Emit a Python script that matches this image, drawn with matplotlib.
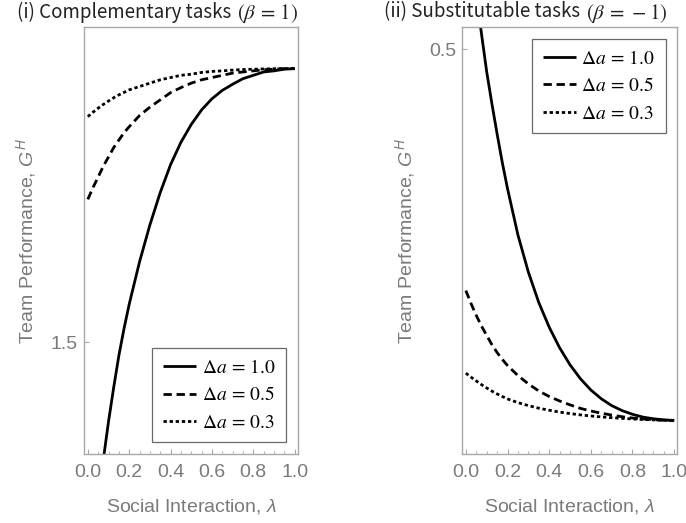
import matplotlib
matplotlib.use("Agg")
import matplotlib.pyplot as plt
from matplotlib.ticker import MultipleLocator, FixedLocator

# social interaction grid (denser near 0 where the curves bend most)
lam = [0.000, 0.025, 0.050, 0.075, 0.100, 0.125, 0.150, 0.175, 0.200, 0.25, 0.30, 0.35,
       0.40, 0.45, 0.50, 0.55, 0.60, 0.65, 0.70, 0.75, 0.80, 0.85, 0.90, 0.95, 1.00]

# (i) complementary tasks, beta = 1
comp_da10 = [1.272, 1.3153, 1.357, 1.395, 1.429, 1.4595, 1.488, 1.5122, 1.534, 1.572, 1.605, 1.634,
             1.659, 1.679, 1.695, 1.708, 1.718, 1.7255, 1.731, 1.736, 1.739, 1.742, 1.743, 1.7445, 1.745]
comp_da05 = [1.628, 1.6385, 1.648, 1.6577, 1.666, 1.6743, 1.681, 1.6877, 1.693, 1.703, 1.7105, 1.717,
             1.7235, 1.728, 1.732, 1.735, 1.737, 1.739, 1.741, 1.742, 1.743, 1.744, 1.7445, 1.745, 1.745]
comp_da03 = [1.702, 1.706, 1.7096, 1.713, 1.716, 1.7189, 1.7215, 1.7237, 1.726, 1.729, 1.732, 1.735,
             1.737, 1.739, 1.740, 1.7416, 1.7425, 1.743, 1.7437, 1.7442, 1.7445, 1.7447, 1.7449, 1.745, 1.745]

# (ii) substitutable tasks, beta = -1
subs_da10 = [0.580, 0.5543, 0.530, 0.5085, 0.488, 0.4708, 0.4545, 0.439, 0.425, 0.400, 0.380, 0.3636,
             0.3503, 0.3392, 0.330, 0.3225, 0.3164, 0.3117, 0.3080, 0.3053, 0.3033, 0.3018, 0.3009, 0.3003, 0.300]
subs_da05 = [0.370, 0.363, 0.3566, 0.3509, 0.3458, 0.3409, 0.3366, 0.3329, 0.3296, 0.3242, 0.3197, 0.3159,
             0.3129, 0.3105, 0.3084, 0.3065, 0.3051, 0.3039, 0.3029, 0.3020, 0.3013, 0.3008, 0.3004, 0.3001, 0.300]
subs_da03 = [0.3255, 0.3233, 0.3213, 0.3193, 0.3175, 0.3158, 0.3143, 0.3129, 0.3116, 0.3096, 0.3080, 0.3066,
             0.3055, 0.3045, 0.3037, 0.3030, 0.3024, 0.3019, 0.3015, 0.3011, 0.3008, 0.3005, 0.3003, 0.3001, 0.300]

labels = [r"$\Delta a\, =\, 1.0$", r"$\Delta a\, =\, 0.5$", r"$\Delta a\, =\, 0.3$"]
title_words = ["(i) Complementary tasks", "(ii) Substitutable tasks"]
title_math = [r"$(\beta\,=\,1)$", r"$(\beta\,=\,-1)$"]

plt.rcParams["font.family"] = ["Liberation Sans", "DejaVu Sans"]
plt.rcParams["mathtext.fontset"] = "custom"
plt.rcParams["mathtext.rm"] = "Liberation Sans"
plt.rcParams["mathtext.it"] = "Liberation Sans:italic"

frame_col = "#a8a8a8"
text_col = "#7a7a7a"
lw = 2.0
styles = [dict(ls="-"), dict(ls=(0, (3.0, 1.7))), dict(ls=(0, (1.2, 1.0)))]

fig = plt.figure(figsize=(6.86, 5.23), dpi=100)
ax1 = fig.add_axes([0.1229, 0.1319, 0.3111, 0.8159])
ax2 = fig.add_axes([0.6739, 0.1319, 0.3134, 0.8159])

panels = [
    (ax1, [comp_da10, comp_da05, comp_da03], (1.4, 1.782), [1.5], "lower right", (0.944, 0.027), 17),
    (ax2, [subs_da10, subs_da05, subs_da03], (0.2819, 0.5119), [0.5], "upper right", (0.946, 0.973), 384),
]

for i, (ax, series, ylim, yt, loc, anchor, tx) in enumerate(panels):
    for ys, st, lab in zip(series, styles, labels):
        ax.plot(lam, ys, color="black", lw=lw, label=lab, solid_capstyle="butt",
                dash_capstyle="butt", **st)
    ax.set_xlim(-0.017, 1.015)
    ax.set_ylim(*ylim)
    ax.xaxis.set_major_locator(MultipleLocator(0.2))
    ax.xaxis.set_minor_locator(MultipleLocator(0.05))
    ax.yaxis.set_major_locator(FixedLocator(yt))
    ax.yaxis.set_minor_locator(FixedLocator([]))
    ax.xaxis.set_major_formatter(plt.FuncFormatter(lambda v, p: f"{v:.1f}"))
    ax.yaxis.set_major_formatter(plt.FuncFormatter(lambda v, p: f"{v:.1f}"))
    ax.tick_params(which="major", direction="in", length=3.5, width=0.8, color=frame_col,
                   labelcolor=text_col, labelsize=14, pad=4.5)
    ax.tick_params(axis="x", which="major", pad=7)
    ax.tick_params(which="minor", direction="in", length=2, width=0.6, color=frame_col)
    for sp in ax.spines.values():
        sp.set_color(frame_col)
        sp.set_linewidth(1.0)
    ax.set_xlabel(r"Social Interaction, $\lambda$", color=text_col, fontsize=14)
    ax.set_ylabel(r"Team Performance, $G^H$", color=text_col, fontsize=14)
    ax.xaxis.set_label_coords(0.5, -0.1)
    ax.yaxis.set_label_coords(-0.215 if i == 0 else -0.21, 0.5)

    leg = ax.legend(loc=loc, bbox_to_anchor=anchor, borderaxespad=0, fontsize=14,
                    frameon=True, fancybox=False, edgecolor="#444444", handlelength=1.7,
                    handletextpad=0.3, labelspacing=0.5, borderpad=0.55)
    leg.get_frame().set_linewidth(0.9)
    for t in leg.get_texts():
        t.set_math_fontfamily("stix")

    t1 = fig.text(tx / 686, 1 - 12 / 523, title_words[i], ha="left", va="center", fontsize=13.5,
                  family=["Noto Sans CJK JP", "DejaVu Sans"], color="#222222")
    ax.annotate(title_math[i], xy=(1, 0.45), xycoords=t1, xytext=(4, 0), textcoords="offset points",
                ha="left", va="center", fontsize=15, math_fontfamily="stix", color="#222222",
                annotation_clip=False)

fig.savefig("out.png", dpi=100)
